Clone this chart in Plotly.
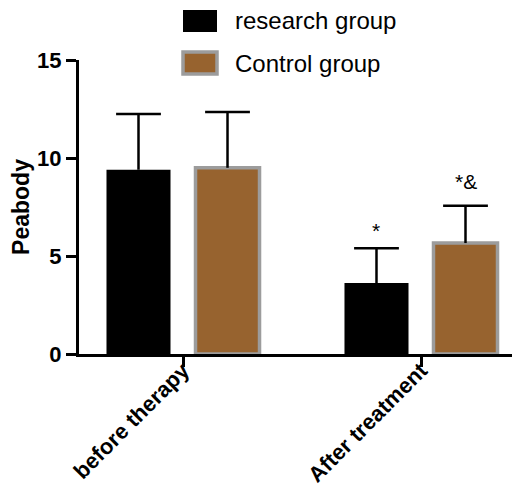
import plotly.graph_objects as go

categories = ["before therapy", "After treatment"]
research_mean = [9.4, 3.62]
research_err = [2.85, 1.78]
control_mean = [9.5, 5.66]
control_err = [2.85, 1.9]
research_marks = ["", "*"]
control_marks = ["", "*&"]
series_names = ["research group", "Control group"]

# page body has an 8px default margin; figure sized to fit the 520x494 window
OFF = 8
W, H = 520 - OFF, 494 - OFF
L, R, T = 79 - OFF, 0, 60 - OFF
ph = 294
B = H - T - ph
pw = W - L - R

BROWN = "#97632F"
GRAY = "#9c9c9c"
FONT = "Arial, Liberation Sans, sans-serif"

half = 0.187      # bar centre offset from category position
barw = 0.269      # bar width in category units
idx = list(range(len(categories)))

series = [
    (series_names[0], research_mean, research_err, research_marks, -half, "black", 0, "black", 4),
    (series_names[1], control_mean, control_err, control_marks, half, BROWN, 3.5, GRAY, 11),
]

fig = go.Figure()
for name, mean, err, marks, off, col, lw, lc, ys in series:
    xs = [i + off for i in idx]
    fig.add_trace(go.Bar(
        x=xs, y=mean, width=barw, name=name,
        marker=dict(color=col, line=dict(width=lw, color=lc)),
        error_y=dict(type="data", array=err, arrayminus=[0]*len(mean),
                     symmetric=False, color="black", thickness=2.5, width=0),
        showlegend=False,
    ))
    tops = [m + e for m, e in zip(mean, err)]
    fig.add_trace(go.Scatter(
        x=xs, y=tops, mode="markers", showlegend=False, hoverinfo="skip",
        marker=dict(symbol="line-ew", size=32, color="black",
                    line=dict(width=2.5, color="black")),
    ))
    for x, t, txt in zip(xs, tops, marks):
        if txt:
            fig.add_annotation(x=x, y=t, xref="x", yref="y", text=txt,
                               showarrow=False, yanchor="bottom", yshift=ys,
                               font=dict(family=FONT, size=21, color="black"))

# manual legend
def px2paper(px, py):
    return (px - OFF - L) / pw, (T + ph - (py - OFF)) / ph

legend_items = [(series_names[0], "black", 0, None), (series_names[1], BROWN, 3.5, GRAY)]
for k, (name, col, lw, lc) in enumerate(legend_items):
    cy = 21 + 42 * k
    x0, y0 = px2paper(183, cy - 11)
    x1, y1 = px2paper(217, cy + 11)
    fig.add_shape(type="rect", xref="paper", yref="paper", x0=x0, x1=x1, y0=y1, y1=y0,
                  fillcolor=col, line=dict(width=lw, color=lc if lc else col))
    tx, ty = px2paper(233, cy)
    fig.add_annotation(x=tx, y=ty, xref="paper", yref="paper", text=name, showarrow=False,
                       xanchor="left", yanchor="middle",
                       font=dict(family=FONT, size=24, color="black"))

fig.update_layout(
    width=W, height=H,
    margin=dict(l=L, r=R, t=T, b=B, autoexpand=False),
    paper_bgcolor="white", plot_bgcolor="white",
    barmode="overlay",
    font=dict(family=FONT, color="black"),
)
fig.update_xaxes(
    range=[-0.437, 1.416], tickvals=idx, ticktext=categories,
    showline=True, linecolor="black", linewidth=3,
    ticks="outside", ticklen=10, tickwidth=3, tickcolor="black",
    tickangle=-45, ticklabelstandoff=-18,
    tickfont=dict(family=FONT, size=22, color="black", weight="bold"),
    showgrid=False, zeroline=False,
)
fig.update_yaxes(
    range=[0, 15], tickvals=[0, 5, 10, 15], showline=True, linecolor="black", linewidth=3,
    ticks="outside", ticklen=10, tickwidth=3, tickcolor="black",
    tickfont=dict(family=FONT, size=22, color="black", weight="bold"),
    title=dict(text="Peabody", font=dict(family=FONT, size=23, color="black", weight="bold"), standoff=12),
    showgrid=False, zeroline=False,
)

fig.write_html("out.html")
